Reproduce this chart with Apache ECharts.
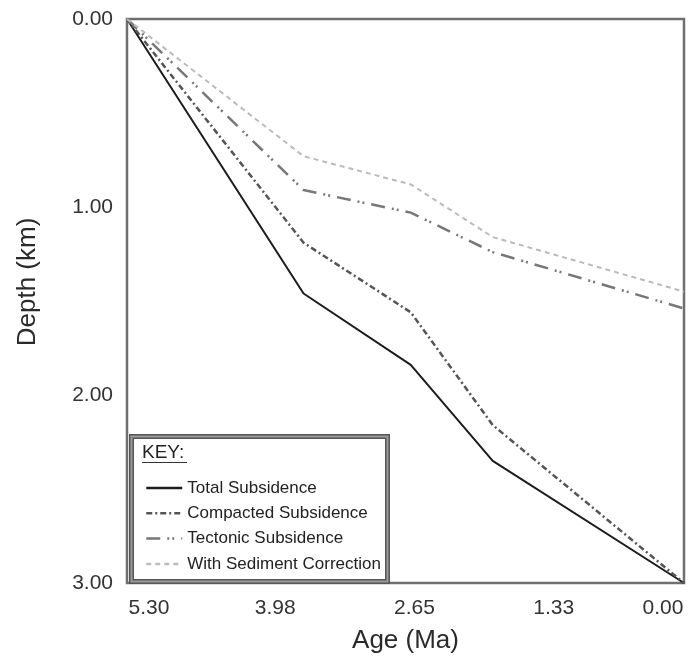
<!DOCTYPE html>
<html>
<head>
<meta charset="utf-8">
<script src="https://cdn.jsdelivr.net/npm/echarts@6/dist/echarts.min.js"></script>
<style>
html,body{margin:0;padding:0;background:#fff;}
#chart{width:689px;height:663px;}
</style>
</head>
<body>
<div id="chart"></div>
<script>
// ---- data ----
const ages = [5.3, 3.62, 2.6, 1.82, 0];
const totalSubsidence = [0, 1.46, 1.84, 2.35, 3.0];
const compactedSubsidence = [0, 1.19, 1.56, 2.16, 3.0];
const tectonicSubsidence = [0, 0.91, 1.03, 1.24, 1.54];
const sedimentCorrection = [0, 0.73, 0.88, 1.16, 1.45];
const seriesNames = ['Total Subsidence', 'Compacted Subsidence', 'Tectonic Subsidence', 'With Sediment Correction'];
const xTickValues = [5.3, 3.975, 2.65, 1.325, 0];
const xTickLabels = ['5.30', '3.98', '2.65', '1.33', '0.00'];
const yTickLabels = ['0.00', '1.00', '2.00', '3.00'];

function pairs(ys) { return ages.map((a, i) => [a, ys[i]]); }

const chart = echarts.init(document.getElementById('chart'), null, {renderer: 'canvas'});
const font = 'Liberation Sans, Arial, sans-serif';

function xLabel(v) {
  let idx = 0, best = 1e9;
  xTickValues.forEach((t, i) => { const d = Math.abs(t - v); if (d < best) { best = d; idx = i; } });
  if (idx === 0) return '{l|' + xTickLabels[idx] + '}';
  if (idx === xTickLabels.length - 1) return '{r|' + xTickLabels[idx] + '}';
  return '{m|' + xTickLabels[idx] + '}';
}

const baseLine = {type: 'line', symbol: 'none', showSymbol: false, silent: true, z: 3};

chart.setOption({
  animation: false,
  backgroundColor: '#fff',
  grid: {left: 127, right: 5, top: 19, bottom: 80, show: true, borderColor: '#6f6f6f', borderWidth: 2.5, backgroundColor: 'transparent'},
  xAxis: {
    type: 'value', min: 0, max: 5.3, inverse: true,
    name: 'Age (Ma)', nameLocation: 'middle', nameGap: 45,
    nameTextStyle: {fontFamily: font, fontSize: 26, color: '#2a2a2a'},
    axisLine: {show: false}, axisTick: {show: false}, splitLine: {show: false},
    axisLabel: {
      customValues: xTickValues,
      margin: 15, formatter: xLabel,
      fontFamily: font, fontSize: 21, color: '#333',
      rich: {
        l: {fontFamily: font, fontSize: 21, color: '#333', padding: [0, 0, 0, 44]},
        m: {fontFamily: font, fontSize: 21, color: '#333', padding: [0, 0, 0, 18]},
        r: {fontFamily: font, fontSize: 21, color: '#333', padding: [0, 42, 0, 0]}
      }
    }
  },
  yAxis: {
    type: 'value', min: 0, max: 3, interval: 1, inverse: true,
    name: 'Depth (km)', nameLocation: 'middle', nameGap: 86,
    nameTextStyle: {fontFamily: font, fontSize: 26, color: '#2a2a2a', padding: [0, 0, 0, 38]},
    axisLine: {show: false}, axisTick: {show: false}, splitLine: {show: false},
    axisLabel: {
      margin: 14, fontFamily: font, fontSize: 21, color: '#333',
      formatter: v => yTickLabels[Math.round(v)]
    }
  },
  legend: {
    orient: 'vertical', left: 140, top: 474,
    itemWidth: 36, itemHeight: 18, itemGap: 7.3,
    data: seriesNames,
    itemStyle: {opacity: 0},
    lineStyle: {width: 2.5},
    textStyle: {fontFamily: font, fontSize: 17, color: '#222', lineHeight: 18},
    selectedMode: false, z: 10
  },
  graphic: [
    {type: 'rect', shape: {x: 131.5, y: 436.5, width: 256, height: 145}, style: {fill: '#fff', stroke: '#555', lineWidth: 5}, z: 5, silent: true},
    {type: 'rect', shape: {x: 131.5, y: 436.5, width: 256, height: 145}, style: {fill: 'none', stroke: '#9a9a9a', lineWidth: 2}, z: 6, silent: true},
    {type: 'text', left: 142, top: 443, style: {text: 'KEY:', font: '19px ' + font, fill: '#222'}, z: 7, silent: true},
    {type: 'line', shape: {x1: 142, y1: 462.5, x2: 187, y2: 462.5}, style: {stroke: '#333', lineWidth: 1}, z: 7, silent: true}
  ],
  series: [
    Object.assign({}, baseLine, {name: seriesNames[0], data: pairs(totalSubsidence), lineStyle: {color: '#1c1c1c', width: 2, type: 'solid'}, itemStyle: {color: '#1c1c1c'}}),
    Object.assign({}, baseLine, {name: seriesNames[1], data: pairs(compactedSubsidence), lineStyle: {color: '#555', width: 2.5, type: [6, 3, 2, 3]}, itemStyle: {color: '#555'}}),
    Object.assign({}, baseLine, {name: seriesNames[2], data: pairs(tectonicSubsidence), lineStyle: {color: '#777', width: 2.5, type: [14, 7, 2, 3, 2, 7]}, itemStyle: {color: '#777'}}),
    Object.assign({}, baseLine, {name: seriesNames[3], data: pairs(sedimentCorrection), lineStyle: {color: '#bbb', width: 2, type: [5, 4]}, itemStyle: {color: '#bbb'}})
  ]
});
</script>
</body>
</html>
